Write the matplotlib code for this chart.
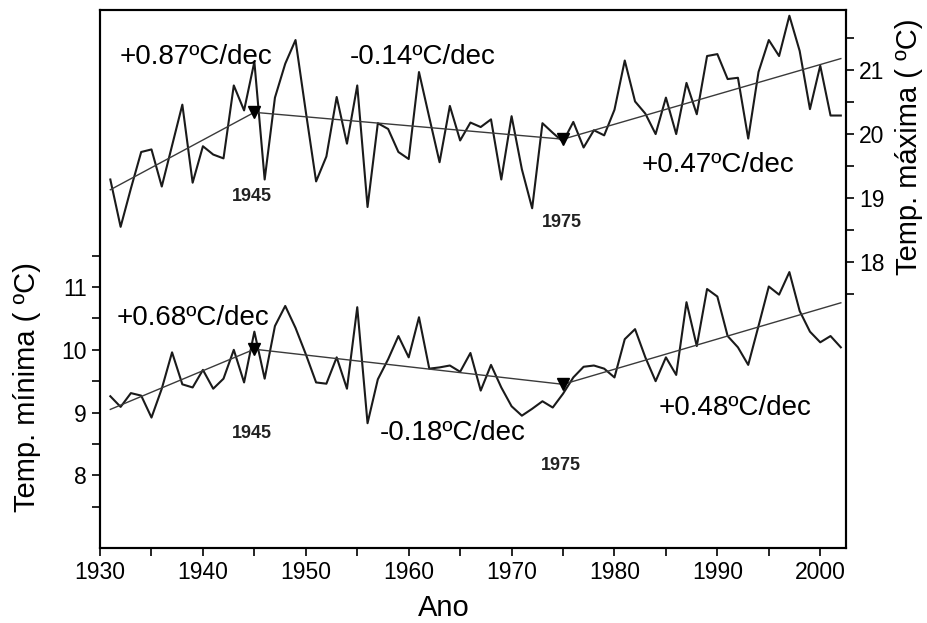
import numpy as np
import matplotlib
matplotlib.use("Agg")
import matplotlib.pyplot as plt
from matplotlib.ticker import FixedLocator

plt.rcParams["font.family"] = ["Liberation Sans", "DejaVu Sans"]

# ── Data ───────────────────────────────────────────────
years = list(range(1931, 2003))

t_max = [19.29, 18.55, 19.15, 19.72, 19.76, 19.18, 19.82, 20.46, 19.24, 19.81,
         19.68, 19.62, 20.76, 20.37, 21.13, 19.29, 20.57, 21.10, 21.47, 20.35,
         19.26, 19.65, 20.58, 19.85, 20.76, 18.86, 20.17, 20.08, 19.72, 19.61,
         20.97, 20.26, 19.56, 20.44, 19.90, 20.18, 20.11, 20.23, 19.29, 20.28,
         19.45, 18.84, 20.17, 20.02, 19.88, 20.19, 19.79, 20.06, 19.98, 20.38,
         21.15, 20.51, 20.32, 20.00, 20.57, 20.00, 20.80, 20.31, 21.22, 21.25,
         20.86, 20.88, 19.93, 20.97, 21.47, 21.22, 21.85, 21.30, 20.39, 21.07,
         20.29, 20.29]

t_min = [9.26, 9.09, 9.31, 9.27, 8.92, 9.38, 9.96, 9.45, 9.40, 9.68,
         9.38, 9.54, 10.00, 9.48, 10.29, 9.54, 10.38, 10.70, 10.35, 9.93,
         9.48, 9.46, 9.88, 9.38, 10.68, 8.83, 9.53, 9.85, 10.22, 9.88,
         10.52, 9.70, 9.72, 9.75, 9.65, 9.95, 9.35, 9.76, 9.40, 9.10,
         8.95, 9.06, 9.18, 9.08, 9.30, 9.56, 9.73, 9.75, 9.70, 9.56,
         10.17, 10.33, 9.88, 9.50, 9.88, 9.60, 10.76, 10.06, 10.97, 10.85,
         10.22, 10.04, 9.76, 10.38, 11.01, 10.88, 11.24, 10.62, 10.29, 10.12,
         10.22, 10.04]

# piecewise trends, break points at 1945 and 1975
trend_years = [1931, 1945, 1975, 2002]
t_max_trend = [19.13, 20.34, 19.92, 21.18]
t_min_trend = [9.05, 10.01, 9.45, 10.75]

max_rates = ["+0.87ºC/dec", "-0.14ºC/dec", "+0.47ºC/dec"]
min_rates = ["+0.68ºC/dec", "-0.18ºC/dec", "+0.48ºC/dec"]

# ── Plot ───────────────────────────────────────────────
fig = plt.figure(figsize=(9.28, 6.23), dpi=100)
ax = fig.add_axes([0.1078, 0.1204, 0.8038, 0.8636])
ax2 = ax.twinx()

# minimum temperature (left axis)
ax.plot(years, t_min, color="#1a1a1a", lw=1.5)
ax.plot(trend_years, t_min_trend, color="#3a3a3a", lw=1.0,
        marker="v", markersize=8, markevery=[1, 2], mfc="black", mec="black")

# maximum temperature (right axis)
ax2.plot(years, t_max, color="#1a1a1a", lw=1.5)
ax2.plot(trend_years, t_max_trend, color="#3a3a3a", lw=1.0,
         marker="v", markersize=8, markevery=[1, 2], mfc="black", mec="black")

ax.set_xlim(1930, 2002.5)
ax.set_ylim(6.84, 15.42)
ax2.set_ylim(13.53, 21.94)

ax.xaxis.set_major_locator(FixedLocator(range(1930, 2001, 10)))
ax.xaxis.set_minor_locator(FixedLocator(range(1935, 2001, 10)))
ax.yaxis.set_major_locator(FixedLocator([8, 9, 10, 11]))
ax.yaxis.set_minor_locator(FixedLocator([7.5, 8.5, 9.5, 10.5, 11.5]))
ax2.yaxis.set_major_locator(FixedLocator([18, 19, 20, 21]))
ax2.yaxis.set_minor_locator(FixedLocator([17.5, 18.5, 19.5, 20.5, 21.5]))

for a in (ax, ax2):
    a.tick_params(which="both", direction="out", width=1.2, length=6)
    a.tick_params(labelsize=16.5)
    for s in a.spines.values():
        s.set_linewidth(1.5)

ax.set_xlabel("Ano", fontsize=21)
ax.xaxis.set_label_coords(0.461, -0.085)
ax.set_ylabel("Temp. mínima ( ºC)", fontsize=21, va="center")
ax.yaxis.set_label_coords(-0.098, 0.30)
ax2.set_ylabel("Temp. máxima ( ºC)", fontsize=21, rotation=90, va="center")
ax2.yaxis.set_label_coords(1.085, 0.745)

# rate annotations
rate_fs = 20
ax2.text(1939.3, 21.2, max_rates[0], fontsize=rate_fs, ha="center", va="center")
ax2.text(1961.4, 21.2, max_rates[1], fontsize=rate_fs, ha="center", va="center")
ax2.text(1990.1, 19.52, max_rates[2], fontsize=rate_fs, ha="center", va="center")
ax.text(1939.0, 10.51, min_rates[0], fontsize=rate_fs, ha="center", va="center")
ax.text(1964.3, 8.67, min_rates[1], fontsize=rate_fs, ha="center", va="center")
ax.text(1991.7, 9.08, min_rates[2], fontsize=rate_fs, ha="center", va="center")

# break year labels
yr_kw = dict(fontsize=13, fontweight="bold", ha="center", va="center", color="#222222")
ax2.text(1944.8, 19.02, "1945", **yr_kw)
ax2.text(1974.9, 18.62, "1975", **yr_kw)
ax.text(1944.8, 8.67, "1945", **yr_kw)
ax.text(1974.8, 8.15, "1975", **yr_kw)

plt.savefig("out.png", dpi=100)
plt.close()
